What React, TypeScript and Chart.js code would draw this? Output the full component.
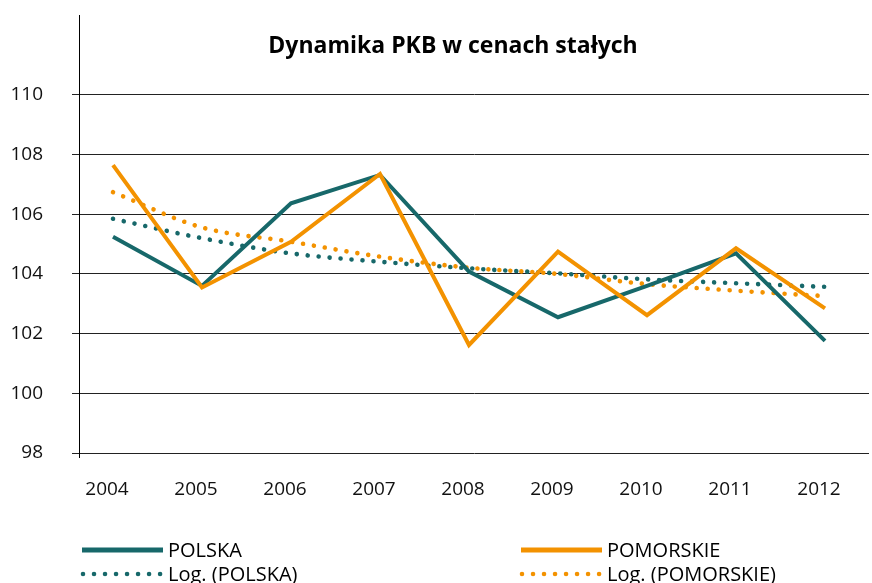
import { useEffect, useRef } from "react";
import { Chart, registerables } from "chart.js";

Chart.register(...registerables);

const years = [2004, 2005, 2006, 2007, 2008, 2009, 2010, 2011, 2012];
const polska = [105.25, 103.6, 106.37, 107.32, 104.08, 102.55, 103.6, 104.69, 101.76];
const pomorskie = [107.65, 103.55, 105.08, 107.35, 101.62, 104.75, 102.62, 104.86, 102.85];
const logPolska = [105.85, 105.2, 104.69, 104.41, 104.19, 104.02, 103.82, 103.69, 103.57];
const logPomorskie = [106.74, 105.56, 105.08, 104.58, 104.21, 104.0, 103.66, 103.44, 103.26];
const yTicks = [98, 100, 102, 104, 106, 108, 110];
const seriesLabels = ["POLSKA", "POMORSKIE", "Log. (POLSKA)", "Log. (POMORSKIE)"];
const chartTitle = "Dynamika PKB w cenach stałych";

const TEAL = "#17686a";
const ORANGE = "#f39200";
const FONT = "'Open Sans', 'Noto Sans', sans-serif";

const toPoints = (vals: number[]) => vals.map((v, i) => ({ x: years[i], y: v }));

const titlePlugin = {
  id: "customTitle",
  afterDraw(chart: any) {
    const ctx = chart.ctx;
    const area = chart.chartArea;
    ctx.save();
    // small extension of the y axis line below the bottom gridline
    ctx.strokeStyle = "#000";
    ctx.lineWidth = 1;
    ctx.beginPath();
    ctx.moveTo(Math.round(area.left) + 0.5, area.bottom);
    ctx.lineTo(Math.round(area.left) + 0.5, area.bottom + 5);
    ctx.stroke();
    ctx.font = `bold 23px ${FONT}`;
    ctx.fillStyle = "#000";
    ctx.textAlign = "center";
    ctx.textBaseline = "alphabetic";
    ctx.fillText(chartTitle, 453, 53);
    ctx.restore();
  },
};

const legendPlugin = {
  id: "customLegend",
  afterDraw(chart: any) {
    const ctx = chart.ctx;
    const cols = [82, 521];
    const rows = [550, 574];
    chart.data.datasets.forEach((ds: any, i: number) => {
      const x0 = cols[i % 2];
      const y = rows[Math.floor(i / 2)];
      ctx.save();
      ctx.strokeStyle = ds.borderColor;
      ctx.lineCap = ds.borderCapStyle || "butt";
      ctx.setLineDash(ds.borderDash || []);
      ctx.beginPath();
      if (ds.borderDash) {
        ctx.lineWidth = ds.borderWidth;
        ctx.moveTo(x0 + 1, y);
        ctx.lineTo(x0 + 80, y);
      } else {
        ctx.lineWidth = 5;
        ctx.moveTo(x0, y);
        ctx.lineTo(x0 + 81, y);
      }
      ctx.stroke();
      ctx.setLineDash([]);
      ctx.font = `20px ${FONT}`;
      ctx.fillStyle = "#000";
      ctx.textAlign = "left";
      ctx.textBaseline = "alphabetic";
      ctx.fillText(ds.label, x0 + 86, y + 7);
      ctx.restore();
    });
  },
};

export default function App() {
  const ref = useRef<HTMLCanvasElement | null>(null);
  useEffect(() => {
    if (!ref.current) return;
    const chart = new Chart(ref.current, {
      type: "line",
      data: {
        datasets: [
          {
            label: seriesLabels[0],
            data: toPoints(polska),
            borderColor: TEAL,
            backgroundColor: TEAL,
            borderWidth: 4,
            pointRadius: 0,
            order: 1,
          },
          {
            label: seriesLabels[1],
            data: toPoints(pomorskie),
            borderColor: ORANGE,
            backgroundColor: ORANGE,
            borderWidth: 4,
            pointRadius: 0,
            order: 0,
          },
          {
            label: seriesLabels[2],
            data: toPoints(logPolska),
            borderColor: TEAL,
            backgroundColor: TEAL,
            borderWidth: 4.6,
            borderDash: [0.01, 11],
            borderCapStyle: "round",
            cubicInterpolationMode: "monotone",
            pointRadius: 0,
            order: 3,
          },
          {
            label: seriesLabels[3],
            data: toPoints(logPomorskie),
            borderColor: ORANGE,
            backgroundColor: ORANGE,
            borderWidth: 4.6,
            borderDash: [0.01, 11],
            borderCapStyle: "round",
            cubicInterpolationMode: "monotone",
            pointRadius: 0,
            order: 2,
          },
        ] as any,
      },
      options: {
        animation: false,
        responsive: true,
        maintainAspectRatio: false,
        layout: { padding: { top: 15, right: 3, left: 0, bottom: 0 } },
        plugins: {
          legend: { display: false },
          tooltip: { enabled: false },
          title: { display: false },
        },
        scales: {
          x: {
            type: "linear",
            min: years[0] - 34 / 89,
            max: years[years.length - 1] + 44 / 89,
            afterBuildTicks: (scale: any) => {
              scale.ticks = years.map((v) => ({ value: v }));
            },
            afterFit: (scale: any) => {
              scale.height = 130;
              scale.paddingLeft = 0;
              scale.paddingRight = 0;
            },
            grid: { display: false, drawTicks: false },
            border: { display: false },
            ticks: {
              color: "#111",
              font: { family: FONT, size: 19 },
              padding: 25,
              labelOffset: -6,
              maxRotation: 0,
              autoSkip: false,
              callback: (v: any) => String(v),
            },
          },
          y: {
            type: "linear",
            min: 98,
            max: 112.68,
            afterBuildTicks: (scale: any) => {
              scale.ticks = yTicks.map((v) => ({ value: v }));
            },
            afterFit: (scale: any) => {
              scale.width = 79;
              scale.paddingTop = 0;
              scale.paddingBottom = 0;
            },
            grid: {
              color: "#222",
              lineWidth: 1,
              drawTicks: true,
              tickLength: 7,
              tickColor: "#222",
            },
            border: { display: true, color: "#000", width: 1 },
            ticks: {
              color: "#111",
              font: { family: FONT, size: 19 },
              padding: 29,
              callback: (v: any) => String(v),
            },
          },
        },
      } as any,
      plugins: [titlePlugin, legendPlugin],
    });
    return () => chart.destroy();
  }, []);
  return (
    <div style={{ position: "fixed", left: 0, top: 0, width: 872, height: 583, background: "#fff" }}>
      <canvas ref={ref} />
    </div>
  );
}
